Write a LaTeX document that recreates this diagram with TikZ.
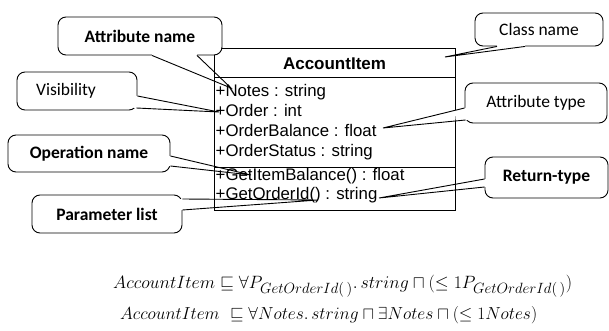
\documentclass[tikz,border=0pt]{standalone}
\usepackage{amsmath,amssymb}
\usepackage{graphicx}
\usepackage{fontspec}
\newfontfamily\umlfont{Liberation Sans}
\newfontfamily\callfont{Carlito}
\usetikzlibrary{calc}
\tikzset{
  callbox/.style={draw, fill=white, rounded corners=8pt, line width=0.9pt, inner sep=0pt, font=\callfont\fontsize{17.5}{19}\selectfont},
  umltext/.style={inner sep=0pt, anchor=base west, font=\umlfont\fontsize{16.8}{19}\selectfont},
  tailline/.style={line width=0.9pt},
  formula/.style={inner sep=0pt, anchor=base west, font=\fontsize{18}{20}\selectfont}
}
\newcommand\calltail[4]{%
  \fill[white] (#1) -- ($(#1)!0.12!(#3)$) -- ($(#2)!0.12!(#3)$) -- (#2) -- ($(#2)+(#4)$) -- ($(#1)+(#4)$) -- cycle;
  \draw[tailline] (#1) -- (#3) -- (#2);
}
\newcommand\bigsub[1]{_{\text{\fontsize{13.5}{15}\selectfont$#1$}}}
\begin{document}
\begin{tikzpicture}[x=1pt,y=-1pt]
\useasboundingbox (0,0) rectangle (609,331);
% class box
\node[draw, line width=1pt, minimum width=241pt, minimum height=162pt, inner sep=0pt, anchor=north west] (cls) at (214,48) {};
\coordinate (s1) at (214,78);
\coordinate (s2) at (214,167);
\draw[line width=1pt] (s1) -- (s1 -| cls.east);
\draw[line width=1pt] (s2) -- (s2 -| cls.east);
\node[inner sep=0pt, anchor=base, font=\umlfont\bfseries\fontsize{17}{19}\selectfont] (title) at (334.5,70) {AccountItem};
\node[umltext] (a1) at (215.5,97) {+Notes : string};
\node[umltext] (a2) at (215.5,117) {+Order : int};
\node[umltext] (a3) at (215.5,137) {+OrderBalance : float};
\node[umltext] (a4) at (215.5,157) {+OrderStatus : string};
\node[umltext] (o1) at (215.5,180) {+GetItemBalance() : float};
\node[umltext] (o2) at (215.5,199) {+GetOrderId() : string};
% callouts
\node[callbox, minimum width=164pt, minimum height=38pt] (an) at (140,36) {\bfseries Attribute name};
\node[callbox, minimum width=120pt, minimum height=38pt] (vis) at (77,91) {\hspace*{-22pt}Visibility};
\node[callbox, minimum width=162pt, minimum height=37pt] (op) at (89,153.5) {\bfseries Operation name};
\node[callbox, minimum width=150pt, minimum height=38pt] (pl) at (107,214) {\bfseries Parameter list};
\node[callbox, minimum width=128pt, minimum height=33pt] (cn) at (539,29.5) {Class name};
\node[callbox, minimum width=142pt, minimum height=40pt] (at) at (536,103) {Attribute type};
\node[callbox, minimum width=123pt, minimum height=41pt] (rt) at (546.5,177.5) {\bfseries Return-type};
% tips
\coordinate (tan) at (231,88);
\coordinate (tvis) at (219,112);
\coordinate (top) at (251,175);
\coordinate (tpl) at (318,200);
\coordinate (tcn) at (445,57);
\coordinate (tat) at (383,128);
\coordinate (trt) at (379,198);
% tails
\calltail{$(an.south)+(12,0)$}{$(an.south)+(57,0)$}{tan}{0,-3}
\calltail{$(vis.east)+(0,5)$}{$(vis.east)+(-1,17)$}{tvis}{-3,0}
\calltail{$(op.east)+(0,2.5)$}{$(op.east)+(0,12.5)$}{top}{-3,0}
\calltail{$(pl.east)+(0,-15)$}{$(pl.east)+(0,-4)$}{tpl}{-3,0}
\calltail{$(cn.south)+(-42,0)$}{$(cn.south)+(-14,0)$}{tcn}{0,-3}
\calltail{$(at.west)+(0,5)$}{$(at.west)+(1,17)$}{tat}{3,0}
\calltail{$(rt.west)+(0,1.5)$}{$(rt.west)+(0,9.5)$}{trt}{3,0}
% formulas
\node[formula] (f1) at (113,288) {\resizebox{459pt}{!}{$AccountItem \sqsubseteq \forall P\bigsub{GetOrderId(\,)}.\,string \sqcap (\leq 1P\bigsub{GetOrderId(\,)})$}};
\node[formula] (f2) at (120,319) {\resizebox{417pt}{!}{$AccountItem\ \sqsubseteq \forall Notes.\,string \sqcap \exists Notes \sqcap (\leq 1Notes)$}};
\end{tikzpicture}
\end{document}
